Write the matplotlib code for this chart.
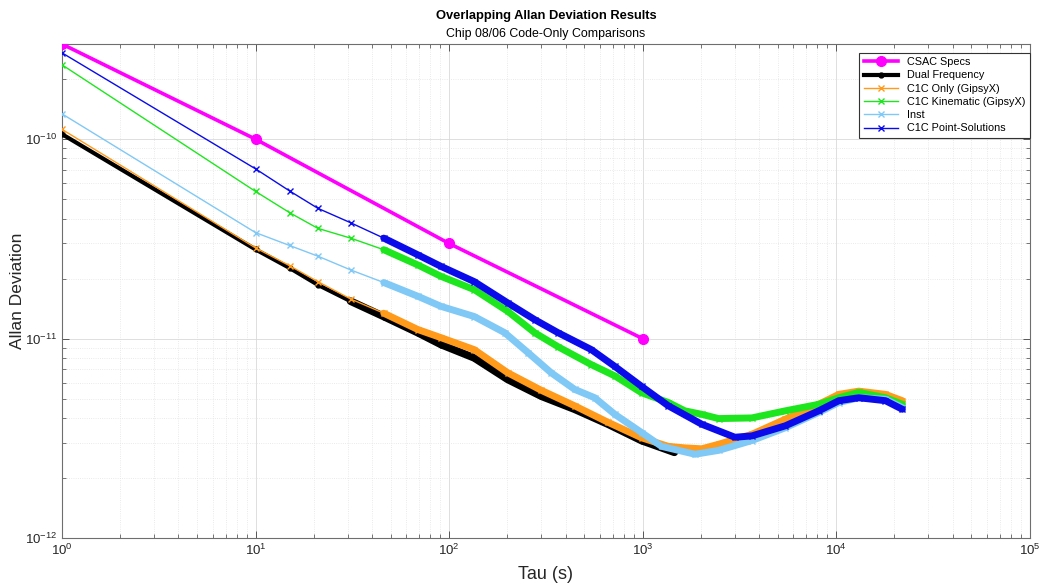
import numpy as np
import matplotlib.pyplot as plt

plt.rcParams['font.family'] = ['Liberation Sans', 'DejaVu Sans']

# CSAC spec points
csac_tau = [1, 10, 100, 1000]
csac_adev = [3e-10, 1e-10, 3e-11, 1e-11]

# Dual frequency (black)
dual_tau = [1, 10, 15, 21, 31, 46, 69, 91, 135, 201, 300, 446, 664, 988, 1460]
dual_adev = [1.06e-10, 2.8e-11, 2.26e-11, 1.86e-11, 1.54e-11, 1.29e-11, 1.07e-11, 9.33e-12,
             8.0e-12, 6.24e-12, 5.14e-12, 4.42e-12, 3.72e-12, 3.08e-12, 2.69e-12]

# C1C only (orange)
c1c_tau = [1, 10, 15, 21, 31, 46, 69, 91, 135, 201, 300, 446, 664, 988, 1359, 1656, 2022,
           2470, 3670, 5460, 8130, 10330, 13100, 18000, 22000]
c1c_adev = [1.12e-10, 2.85e-11, 2.32e-11, 1.93e-11, 1.58e-11, 1.34e-11, 1.11e-11, 1.01e-11,
            8.8e-12, 6.74e-12, 5.5e-12, 4.6e-12, 3.8e-12, 3.18e-12, 2.88e-12, 2.83e-12, 2.8e-12,
            2.95e-12, 3.31e-12, 3.94e-12, 4.68e-12, 5.25e-12, 5.45e-12, 5.25e-12, 4.88e-12]

# C1C kinematic (green)
kin_tau = [1, 10, 15, 21, 31, 46, 69, 91, 135, 201, 277, 366, 544, 719, 988, 1359, 1656,
           2022, 2470, 3670, 5460, 8130, 10330, 13100, 18000, 22000]
kin_adev = [2.36e-10, 5.47e-11, 4.28e-11, 3.57e-11, 3.19e-11, 2.79e-11, 2.34e-11, 2.05e-11,
            1.76e-11, 1.37e-11, 1.07e-11, 9.1e-12, 7.4e-12, 6.5e-12, 5.35e-12, 4.78e-12, 4.34e-12,
            4.17e-12, 3.97e-12, 4.0e-12, 4.34e-12, 4.68e-12, 5.05e-12, 5.37e-12, 5.05e-12, 4.68e-12]

# Inst (light blue)
inst_tau = [1, 10, 15, 21, 31, 46, 69, 91, 135, 194, 256, 337, 446, 566, 719, 988, 1254,
            1866, 2470, 3670, 5460, 8130, 10330, 13100, 18000, 22000]
inst_adev = [1.34e-10, 3.4e-11, 2.93e-11, 2.59e-11, 2.21e-11, 1.91e-11, 1.63e-11, 1.45e-11,
             1.29e-11, 1.07e-11, 8.5e-12, 6.74e-12, 5.56e-12, 5.05e-12, 4.17e-12, 3.38e-12, 2.88e-12,
             2.63e-12, 2.75e-12, 3.08e-12, 3.57e-12, 4.26e-12, 4.78e-12, 5.05e-12, 4.96e-12, 4.5e-12]

# C1C point solutions (blue)
pts_tau = [1, 10, 15, 21, 31, 46, 69, 91, 135, 201, 277, 366, 544, 719, 988, 1359, 2022,
           3000, 3670, 5460, 8130, 10330, 13100, 18000, 22000]
pts_adev = [2.71e-10, 7.1e-11, 5.5e-11, 4.5e-11, 3.81e-11, 3.19e-11, 2.63e-11, 2.3e-11,
            1.93e-11, 1.51e-11, 1.245e-11, 1.07e-11, 8.8e-12, 7.25e-12, 5.76e-12, 4.6e-12, 3.72e-12,
            3.2e-12, 3.25e-12, 3.65e-12, 4.34e-12, 4.88e-12, 5.05e-12, 4.88e-12, 4.42e-12]

labels = ['CSAC Specs', 'Dual Frequency', 'C1C Only (GipsyX)', 'C1C Kinematic (GipsyX)',
          'Inst', 'C1C Point-Solutions']

fig = plt.figure(figsize=(10.4, 5.87), dpi=100)
ax = fig.add_axes([0.0596, 0.0835, 0.9304, 0.8415])

ax.plot(csac_tau, csac_adev, color='#FF00FF', lw=2.6, marker='o', ms=7, label=labels[0], zorder=3)

# black line is thick everywhere
ax.plot(dual_tau, dual_adev, color='black', lw=3, marker='o', ms=3.5, label=labels[1], zorder=3)
t = np.array(dual_tau); a = np.array(dual_adev)
ax.plot(t[t >= 31], a[t >= 31], color='black', lw=5.5, solid_capstyle='round', zorder=3)

# the x markers pile up into a thick band at large tau
series = [(c1c_tau, c1c_adev, '#FF9A1A', labels[2]),
          (kin_tau, kin_adev, '#1EE61E', labels[3]),
          (inst_tau, inst_adev, '#80C8F5', labels[4]),
          (pts_tau, pts_adev, '#0A0AEB', labels[5])]
for tau, adev, col, lab in series:
    ax.plot(tau, adev, color=col, lw=1.0, marker='x', ms=4.5, mew=1.0, label=lab, zorder=3)
    t = np.array(tau); a = np.array(adev)
    ax.plot(t[t >= 46], a[t >= 46], color=col, lw=5, solid_capstyle='round', zorder=3)

ax.set_xscale('log')
ax.set_yscale('log')
ax.set_xlim(1, 1e5)
ax.set_ylim(1e-12, 3e-10)

ax.grid(True, which='major', color='#D9D9D9', lw=0.6, ls='-')
ax.grid(True, which='minor', color='#E3E3E3', lw=0.6, ls=':')
ax.set_axisbelow(True)
ax.tick_params(which='both', direction='in', top=True, right=True, colors='#404040',
               labelcolor='#262626', labelsize=9.5)
ax.tick_params(which='major', length=5, width=0.6)
ax.tick_params(which='minor', length=3, width=0.5, labelleft=False, labelbottom=False)
for s in ax.spines.values():
    s.set_color('#6E6E6E')
    s.set_linewidth(0.8)

ax.set_xlabel('Tau (s)', fontsize=13, color='#262626', labelpad=6)
ax.set_ylabel('Allan Deviation', fontsize=12.5, color='#262626')
ax.yaxis.set_label_coords(-0.038, 0.5)

fig.text(0.525, 0.972, 'Overlapping Allan Deviation Results', ha='center', va='center',
         fontsize=9.3, fontweight='bold')
fig.text(0.525, 0.942, 'Chip 08/06 Code-Only Comparisons', ha='center', va='center', fontsize=8.9)

leg = ax.legend(loc='upper right', bbox_to_anchor=(1.0, 0.982), borderaxespad=0,
                fontsize=7.8, handlelength=3.2, labelspacing=0.3, fancybox=False,
                framealpha=1, edgecolor='#333333', borderpad=0.4)
leg.get_frame().set_linewidth(0.8)

fig.savefig('out.png', dpi=100)
